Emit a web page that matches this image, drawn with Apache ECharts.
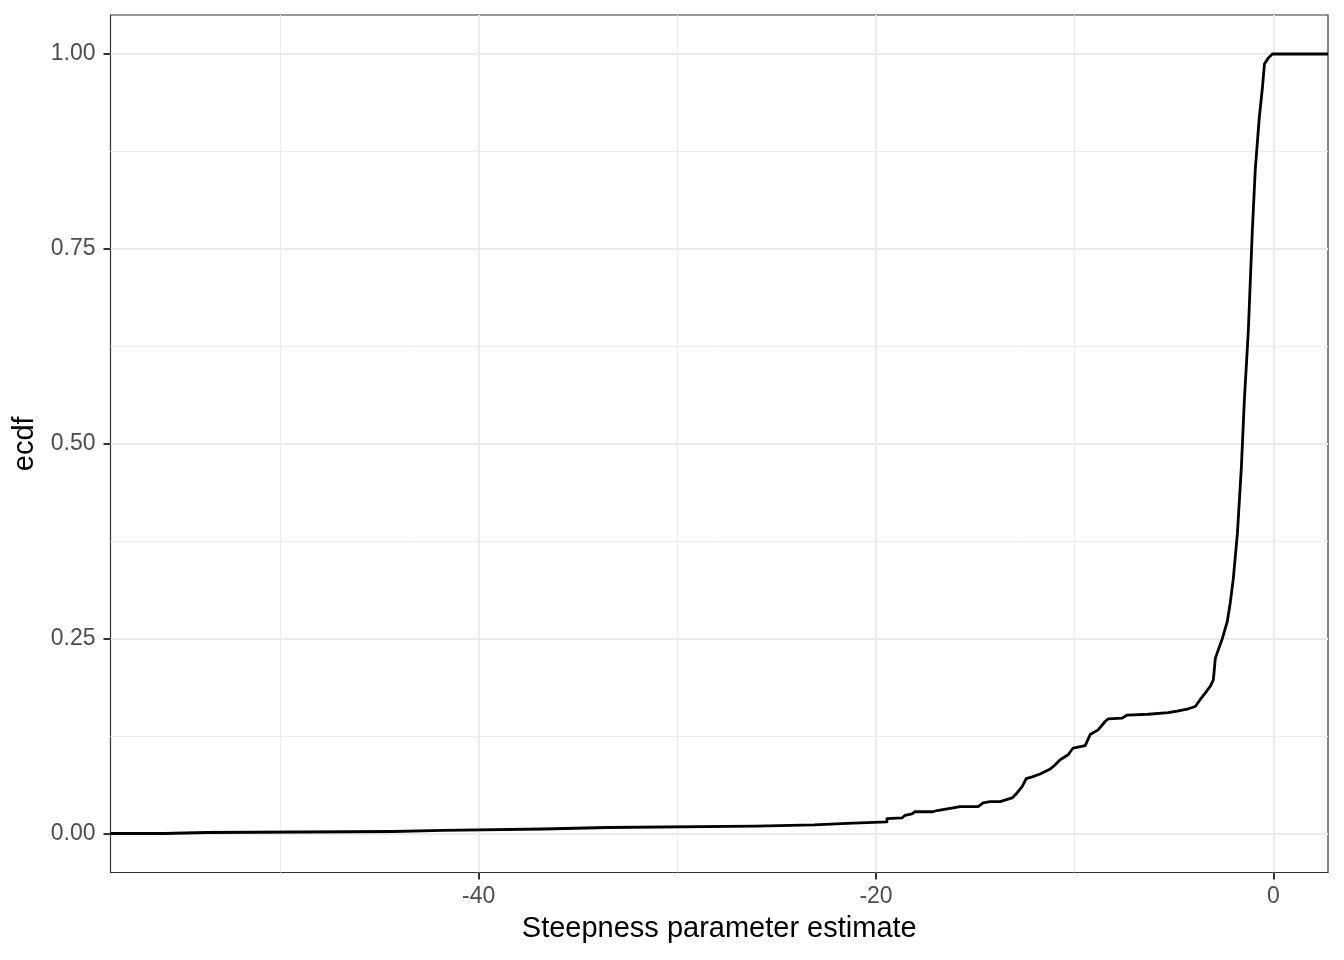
<!DOCTYPE html>
<html>
<head>
<meta charset="utf-8">
<script src="https://cdn.jsdelivr.net/npm/echarts@6/dist/echarts.min.js"></script>
<style>
  html, body { margin: 0; padding: 0; background: #fff; }
  #chart { width: 1344px; height: 960px; }
</style>
</head>
<body>
<div id="chart"></div>
<script>
// ecdf trace (x = steepness estimate, y = ecdf)
const traceX = [
  -58.53, -55.82, -55.82, -53.70, -53.70, -44.33, -44.33, -41.81, -41.81,
  -36.73, -36.73, -33.55, -33.55, -26.05, -26.05, -23.12, -23.12, -21.46,
  -21.46, -19.45, -19.45, -18.69, -18.54, -18.19, -18.04, -17.13, -16.93,
  -16.12, -15.77, -14.86, -14.61, -14.26, -13.75, -13.15, -12.90, -12.64,
  -12.44, -12.14, -11.74, -11.23, -10.98, -10.73, -10.33, -10.08, -9.47,
  -9.22, -8.82, -8.46, -8.31, -7.61, -7.36, -6.30, -5.29, -4.84, -4.28,
  -3.93, -3.68, -3.43, -3.17, -3.02, -2.92, -2.57, -2.32, -2.17, -2.02,
  -1.81, -1.61, -1.46, -1.26, -1.06, -0.91, -0.71, -0.55, -0.45, -0.25,
  -0.05, 2.75
]
const traceY = [
  0, 0, 0.0013, 0.0013, 0.0026, 0.0026, 0.004, 0.004, 0.0058,
  0.0058, 0.0077, 0.0077, 0.0094, 0.0094, 0.011, 0.011, 0.013, 0.013,
  0.015, 0.015, 0.019, 0.020, 0.0234, 0.0253, 0.0279, 0.0279, 0.0295,
  0.033, 0.0346, 0.0346, 0.0393, 0.041, 0.041, 0.0457, 0.0521, 0.0606,
  0.0705, 0.0726, 0.0764, 0.0828, 0.0883, 0.0947, 0.1011, 0.1097, 0.1127,
  0.127, 0.133, 0.144, 0.147, 0.148, 0.152, 0.153, 0.155, 0.157, 0.160,
  0.163, 0.172, 0.180, 0.189, 0.197, 0.225, 0.25, 0.272, 0.296, 0.326,
  0.385, 0.47, 0.556, 0.645, 0.773, 0.852, 0.918, 0.957, 0.987, 0.995,
  1.0, 1.0
]

const xMajor = [-40, -20, 0]
const xMinor = [-50, -30, -10]
const yMajor = [0, 0.25, 0.5, 0.75, 1]
const yMinor = [0.125, 0.375, 0.625, 0.875]

const X_MIN = -58.53
const X_MAX = 2.75
const Y_MIN = -0.05
const Y_MAX = 1.05

const font = 'Liberation Sans, Arial, Helvetica, sans-serif'
const gridCol = '#EBEBEB'
const inkCol = '#333333'

const chart = echarts.init(document.getElementById('chart'))

const option = {
  animation: false,
  backgroundColor: '#fff',
  grid: {
    left: 110.5,
    right: 16,
    top: 15,
    bottom: 87.5,
    show: true,
    borderColor: inkCol,
    borderWidth: 1.2,
    backgroundColor: 'transparent',
  },
  xAxis: [
    {
      type: 'value',
      min: X_MIN,
      max: X_MAX,
      position: 'bottom',
      name: 'Steepness parameter estimate',
      nameLocation: 'middle',
      nameGap: 42,
      nameTextStyle: { fontFamily: font, fontSize: 29, color: '#000' },
      axisLine: { show: false, onZero: false },
      axisTick: {
        customValues: xMajor,
        inside: false,
        length: 7,
        lineStyle: { color: inkCol, width: 2 },
      },
      axisLabel: {
        customValues: xMajor,
        margin: 13,
        fontFamily: font,
        fontSize: 23,
        color: '#4D4D4D',
      },
      splitLine: { show: true, lineStyle: { color: gridCol, width: 2 } },
    },
    {
      type: 'value',
      min: X_MIN,
      max: X_MAX,
      position: 'bottom',
      axisLine: { show: false, onZero: false },
      axisTick: { show: false, customValues: xMinor },
      axisLabel: { show: false, customValues: xMinor },
      splitLine: { show: true, lineStyle: { color: gridCol, width: 1 } },
    },
  ],
  yAxis: [
    {
      type: 'value',
      min: Y_MIN,
      max: Y_MAX,
      position: 'left',
      name: 'ecdf',
      nameLocation: 'middle',
      nameGap: 67,
      nameTextStyle: { fontFamily: font, fontSize: 29, color: '#000' },
      axisLine: { show: false, onZero: false },
      axisTick: {
        customValues: yMajor,
        inside: false,
        length: 7,
        lineStyle: { color: inkCol, width: 2 },
      },
      axisLabel: {
        customValues: yMajor,
        margin: 15,
        fontFamily: font,
        fontSize: 23,
        color: '#4D4D4D',
        formatter: (v) => v.toFixed(2),
      },
      splitLine: { show: true, lineStyle: { color: gridCol, width: 2 } },
    },
    {
      type: 'value',
      min: Y_MIN,
      max: Y_MAX,
      position: 'left',
      axisLine: { show: false, onZero: false },
      axisTick: { show: false, customValues: yMinor },
      axisLabel: { show: false, customValues: yMinor },
      splitLine: { show: true, lineStyle: { color: gridCol, width: 1 } },
    },
  ],
  series: [
    {
      type: 'line',
      xAxisIndex: 0,
      yAxisIndex: 0,
      data: traceX.map((x, i) => [x, traceY[i]]),
      showSymbol: false,
      symbol: 'none',
      lineStyle: { color: '#000', width: 2.8, join: 'round' },
      z: 5,
    },
  ],
}

chart.setOption(option)
</script>
</body>
</html>
